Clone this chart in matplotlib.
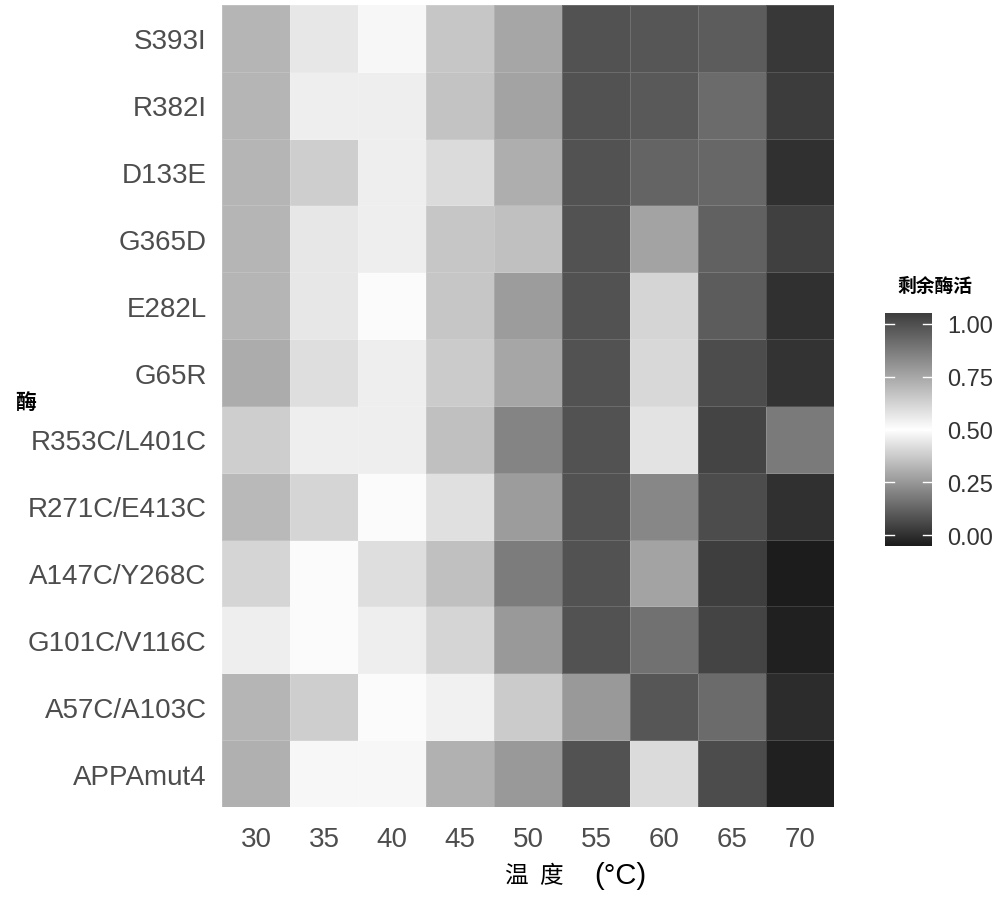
import numpy as np
import matplotlib
matplotlib.use("Agg")
import matplotlib.pyplot as plt
from matplotlib.colors import LinearSegmentedColormap, Normalize

# enzyme variants (top to bottom as shown) and temperatures
enzymes = ["S393I", "R382I", "D133E", "G365D", "E282L", "G65R",
           "R353C/L401C", "R271C/E413C", "A147C/Y268C", "G101C/V116C",
           "A57C/A103C", "APPAmut4"]
temps = [30, 35, 40, 45, 50, 55, 60, 65, 70]

# residual activity, one list per enzyme, columns = temps
S393I = [0.32, 0.44, 0.48, 0.66, 0.75, 0.99, 0.98, 0.96, 0.02]
R382I = [0.32, 0.46, 0.46, 0.67, 0.76, 0.99, 0.97, 0.92, 0.03]
D133E = [0.32, 0.38, 0.46, 0.60, 0.73, 0.99, 0.94, 0.93, 0.00]
G365D = [0.32, 0.44, 0.46, 0.66, 0.68, 0.99, 0.76, 0.95, 0.04]
E282L = [0.32, 0.44, 0.49, 0.66, 0.78, 0.99, 0.62, 0.96, 0.00]
G65R = [0.30, 0.42, 0.46, 0.65, 0.75, 0.99, 0.61, 1.01, 0.01]
R353C_L401C = [0.38, 0.46, 0.46, 0.68, 0.85, 0.99, 0.58, 1.03, 0.18]
R271C_E413C = [0.33, 0.40, 0.49, 0.59, 0.78, 0.99, 0.84, 1.01, 0.00]
A147C_Y268C = [0.40, 0.49, 0.42, 0.68, 0.87, 0.99, 0.76, 1.05, -0.05]
G101C_V116C = [0.46, 0.49, 0.46, 0.62, 0.79, 0.99, 0.90, 1.03, -0.04]
A57C_A103C = [0.32, 0.38, 0.49, 0.54, 0.65, 0.79, 0.98, 0.92, -0.01]
APPAmut4 = [0.31, 0.48, 0.48, 0.72, 0.79, 0.99, 0.60, 1.01, -0.04]

values = np.array([S393I, R382I, D133E, G365D, E282L, G65R, R353C_L401C,
                   R271C_E413C, A147C_Y268C, G101C_V116C, A57C_A103C, APPAmut4])

# ggplot gradient2 style: dark - white (mid 0.5) - dark grey
cmap = LinearSegmentedColormap.from_list("g2", ["#1c1c1c", "#ffffff", "#3e3e3e"])
dmin, dmax = values.min(), values.max()
half = max(abs(dmin - 0.5), abs(dmax - 0.5))
norm = Normalize(vmin=0.5 - half, vmax=0.5 + half)

fig = plt.figure(figsize=(10, 9.04), dpi=100)
ax = fig.add_axes([0.222, 0.1062, 0.612, 0.8872])

rows = values[::-1]  # bottom row first
ax.pcolormesh(np.arange(len(temps) + 1), np.arange(len(enzymes) + 1), rows,
              cmap=cmap, norm=norm, edgecolors=(1, 1, 1, 0.15), linewidth=0.6)
ax.set_xlim(0, len(temps))
ax.set_ylim(0, len(enzymes))
ax.set_xticks(np.arange(len(temps)) + 0.5)
ax.set_xticklabels([str(t) for t in temps])
ax.set_yticks(np.arange(len(enzymes)) + 0.5)
ax.set_yticklabels(enzymes[::-1])
ax.tick_params(length=0, labelsize=20, labelcolor="#4d4d4d")
ax.tick_params(axis="x", pad=14)
ax.tick_params(axis="y", pad=11)
for lab in ax.get_xticklabels() + ax.get_yticklabels():
    lab.set_family("Liberation Sans")
for s in ax.spines.values():
    s.set_visible(False)

# axis titles
fig.text(0.504, 0.030, "温", fontsize=17, family="Noto Sans CJK SC",
         ha="left", va="center")
fig.text(0.539, 0.030, "度", fontsize=17, family="Noto Sans CJK SC",
         ha="left", va="center")
fig.text(0.594, 0.031, "(°C)", fontsize=21, family="Liberation Sans",
         ha="left", va="center")
fig.text(0.015, 0.555, "酶", fontsize=15, family="Noto Sans CJK SC",
         ha="left", va="center", fontweight="bold")

# colourbar drawn over the data range only
cax = fig.add_axes([0.885, 0.3949, 0.047, 0.2577])
grad = np.linspace(dmin, dmax, 256)[:, None]
cax.imshow(grad, aspect="auto", cmap=cmap, norm=norm, origin="lower",
           extent=[0, 1, dmin, dmax])
cax.set_xlim(0, 1)
cax.set_ylim(dmin, dmax)
cax.set_xticks([])
cax.yaxis.tick_right()
ticks = [0.0, 0.25, 0.5, 0.75, 1.0]
cax.set_yticks(ticks)
cax.set_yticklabels([f"{t:.2f}" for t in ticks])
cax.tick_params(length=0, labelsize=17, labelcolor="#333333", pad=11)
for lab in cax.get_yticklabels():
    lab.set_family("Liberation Sans")
for t in ticks:
    cax.plot([0, 0.2], [t, t], color="white", lw=1)
    cax.plot([0.8, 1], [t, t], color="white", lw=1)
for s in cax.spines.values():
    s.set_visible(False)
fig.text(0.897, 0.6836, "剩余酶活", fontsize=13.5, family="Noto Sans CJK SC",
         ha="left", va="center", fontweight="bold")

fig.savefig("out.png", dpi=100, facecolor="white")
